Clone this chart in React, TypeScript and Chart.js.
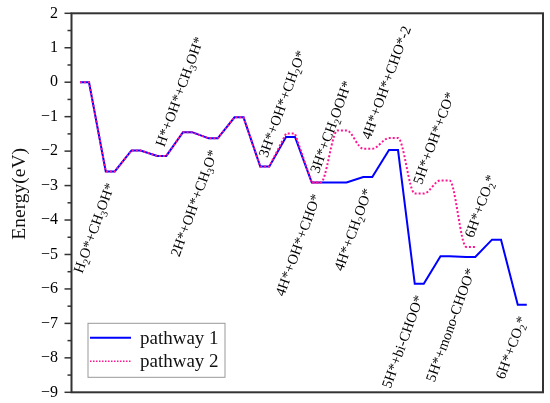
import { useEffect, useRef } from "react";
import { Chart, registerables } from "chart.js";
Chart.register(...registerables);

// ---- data ----
const seriesNames = ["pathway 1", "pathway 2"];
const pathway1Energies = [0, -2.59, -1.98, -2.14, -1.45, -1.63, -1.02, -2.45, -1.59, -2.91, -2.91, -2.75, -1.97, -5.85, -5.05, -5.07, -4.57, -6.46];
const pathway2Energies = [0, -2.59, -1.98, -2.14, -1.45, -1.63, -1.02, -2.45, -1.49, -2.91, -1.4, -1.93, -1.62, -3.23, -2.85, -4.78];
const pathway2SplineFrom = 9;
const belowLabels = ["H_2O*+CH_3OH*", "2H*+OH*+CH_3O*", "4H*+OH*+CHO*", "4H*+CH_2OO*", "5H*+bi-CHOO*", "5H*+mono-CHOO*", "6H*+CO_2*"];
const belowStates = [1, 5, 9, 11, 13, 15, 17];
const aboveLabels = ["H*+OH*+CH_3OH*", "3H*+OH*+CH_2O*", "3H*+CH_2OOH*", "4H*+OH*+CHO*-2", "5H*+OH*+CO*", "6H*+CO_2*"];
const aboveStates = [3, 7, 9, 11, 13, 15];
const yMin = -9;
const yMax = 2;
const yTitle = "Energy(eV)";

// ---- geometry / style ----
const PLATEAU_START = 0.33;
const PLATEAU_WIDTH = 0.35;
const X_MAX = 18.31;
const BLUE = "#0000ff";
const PINK = "#ff1493";
const SERIF = '"Liberation Serif", "Times New Roman", serif';

function plateauPoints(energies: number[], from: number, to: number) {
  const pts: { x: number; y: number }[] = [];
  for (let i = from; i <= to; i++) {
    pts.push({ x: i + PLATEAU_START, y: energies[i] });
    pts.push({ x: i + PLATEAU_START + PLATEAU_WIDTH, y: energies[i] });
  }
  return pts;
}

function parseRich(s: string) {
  const segs: { t: string; sub: boolean }[] = [];
  let buf = "";
  for (let i = 0; i < s.length; i++) {
    if (s[i] === "_" && i + 1 < s.length) {
      if (buf) segs.push({ t: buf, sub: false });
      buf = "";
      segs.push({ t: s[i + 1], sub: true });
      i++;
    } else buf += s[i];
  }
  if (buf) segs.push({ t: buf, sub: false });
  return segs;
}

function drawRich(ctx: CanvasRenderingContext2D, s: string, x: number, y: number, angleDeg: number, align: "left" | "right") {
  const segs = parseRich(s);
  const mainFont = `14.5px ${SERIF}`;
  const subFont = `10px ${SERIF}`;
  ctx.save();
  ctx.translate(x, y);
  ctx.rotate((angleDeg * Math.PI) / 180);
  let total = 0;
  for (const sg of segs) {
    ctx.font = sg.sub ? subFont : mainFont;
    total += ctx.measureText(sg.t).width;
  }
  let cx = align === "right" ? -total : 0;
  ctx.textAlign = "left";
  ctx.textBaseline = "alphabetic";
  ctx.fillStyle = "#000";
  for (const sg of segs) {
    ctx.font = sg.sub ? subFont : mainFont;
    ctx.fillText(sg.t, cx, sg.sub ? 8 : 4.8);
    cx += ctx.measureText(sg.t).width;
  }
  ctx.restore();
}

const decorPlugin = {
  id: "decor",
  afterDraw(chart: any) {
    const ctx: CanvasRenderingContext2D = chart.ctx;
    const { left, right, top, bottom } = chart.chartArea;
    const xs = chart.scales.x;
    const ys = chart.scales.y;

    // frame
    ctx.save();
    ctx.strokeStyle = "#333";
    ctx.lineWidth = 2;
    ctx.strokeRect(left, top, right - left, bottom - top);

    // y ticks (major + minor)
    ctx.lineWidth = 1.5;
    const ticks = ys.ticks.map((t: any) => t.value);
    for (let i = 0; i < ticks.length; i++) {
      const yp = ys.getPixelForValue(ticks[i]);
      ctx.beginPath();
      ctx.moveTo(left - 7, yp);
      ctx.lineTo(left, yp);
      ctx.stroke();
      if (i + 1 < ticks.length) {
        const ym = ys.getPixelForValue((ticks[i] + ticks[i + 1]) / 2);
        ctx.beginPath();
        ctx.moveTo(left - 4, ym);
        ctx.lineTo(left, ym);
        ctx.stroke();
      }
    }
    ctx.restore();

    // axis title
    ctx.save();
    ctx.translate(20, (top + bottom) / 2 - 9);
    ctx.rotate(-Math.PI / 2);
    ctx.font = `19.5px ${SERIF}`;
    ctx.fillStyle = "#111";
    ctx.textAlign = "center";
    ctx.textBaseline = "middle";
    ctx.fillText(yTitle, 0, 0);
    ctx.restore();

    // state labels
    const angle = -70;
    belowLabels.forEach((lab, k) => {
      const st = belowStates[k];
      const xc = xs.getPixelForValue(st + PLATEAU_START + PLATEAU_WIDTH / 2);
      const yp = ys.getPixelForValue(pathway1Energies[st]);
      drawRich(ctx, lab, xc, yp + 12, angle, "right");
    });
    aboveLabels.forEach((lab, k) => {
      const st = aboveStates[k];
      const xc = xs.getPixelForValue(st + PLATEAU_START + PLATEAU_WIDTH / 2);
      const yp = ys.getPixelForValue(pathway2Energies[st]);
      drawRich(ctx, lab, xc - 2, yp - 10, angle, "left");
    });

    // legend
    const lx = left + 16.5;
    const ly = bottom - 69;
    ctx.save();
    ctx.fillStyle = "#fff";
    ctx.fillRect(lx, ly, 137, 54);
    ctx.strokeStyle = "#999";
    ctx.lineWidth = 1;
    ctx.strokeRect(lx, ly, 137, 54);
    ctx.lineWidth = 2;
    ctx.strokeStyle = BLUE;
    ctx.beginPath();
    ctx.moveTo(lx + 2, ly + 14.5);
    ctx.lineTo(lx + 43, ly + 14.5);
    ctx.stroke();
    ctx.strokeStyle = PINK;
    ctx.lineWidth = 1.5;
    ctx.setLineDash([1.5, 1.5]);
    ctx.beginPath();
    ctx.moveTo(lx + 2, ly + 38);
    ctx.lineTo(lx + 43, ly + 38);
    ctx.stroke();
    ctx.setLineDash([]);
    ctx.fillStyle = "#111";
    ctx.font = `19px ${SERIF}`;
    ctx.textAlign = "left";
    ctx.textBaseline = "middle";
    ctx.fillText(seriesNames[0], lx + 52, ly + 15.5);
    ctx.fillText(seriesNames[1], lx + 52, ly + 39);
    ctx.restore();
  },
};

export default function App() {
  const ref = useRef<HTMLCanvasElement | null>(null);
  useEffect(() => {
    document.body.style.margin = "0";
    const canvas = ref.current;
    if (!canvas) return;
    const chart = new Chart(canvas, {
      type: "line",
      data: {
        datasets: [
          {
            label: seriesNames[1],
            data: plateauPoints(pathway2Energies, 0, pathway2SplineFrom),
            borderColor: PINK,
            borderWidth: 2,
            borderDash: [2, 2],
            pointRadius: 0,
            tension: 0,
            order: 0,
          },
          {
            label: seriesNames[1] + " (spline)",
            data: plateauPoints(pathway2Energies, pathway2SplineFrom, pathway2Energies.length - 1),
            borderColor: PINK,
            borderWidth: 2,
            borderDash: [2, 2],
            pointRadius: 0,
            cubicInterpolationMode: "monotone",
            order: 0,
          },
          {
            label: seriesNames[0],
            data: plateauPoints(pathway1Energies, 0, pathway1Energies.length - 1),
            borderColor: BLUE,
            borderWidth: 2,
            pointRadius: 0,
            tension: 0,
            order: 1,
          },
        ],
      },
      options: {
        animation: false,
        responsive: false,
        devicePixelRatio: 1,
        layout: { padding: { left: 0, right: 7, top: 13.3, bottom: 10.7 } },
        plugins: { legend: { display: false }, tooltip: { enabled: false } },
        scales: {
          x: { type: "linear", min: 0, max: X_MAX, display: false },
          y: {
            min: yMin,
            max: yMax,
            grid: { display: false, drawTicks: false },
            border: { display: false },
            ticks: {
              stepSize: 1,
              padding: 13.5,
              color: "#000",
              font: { family: SERIF, size: 16 },
              callback: (v: any) => (Number(v) < 0 ? "\u2212" + Math.abs(Number(v)) : String(v)),
            },
            afterFit: (scale: any) => {
              scale.width = 71.5;
              scale.paddingTop = 0;
              scale.paddingBottom = 0;
            },
          },
        },
      },
      plugins: [decorPlugin],
    } as any);
    return () => chart.destroy();
  }, []);
  return (
    <div style={{ width: 550, height: 403, background: "#fff" }}>
      <canvas ref={ref} width={550} height={403} style={{ display: "block" }} />
    </div>
  );
}
